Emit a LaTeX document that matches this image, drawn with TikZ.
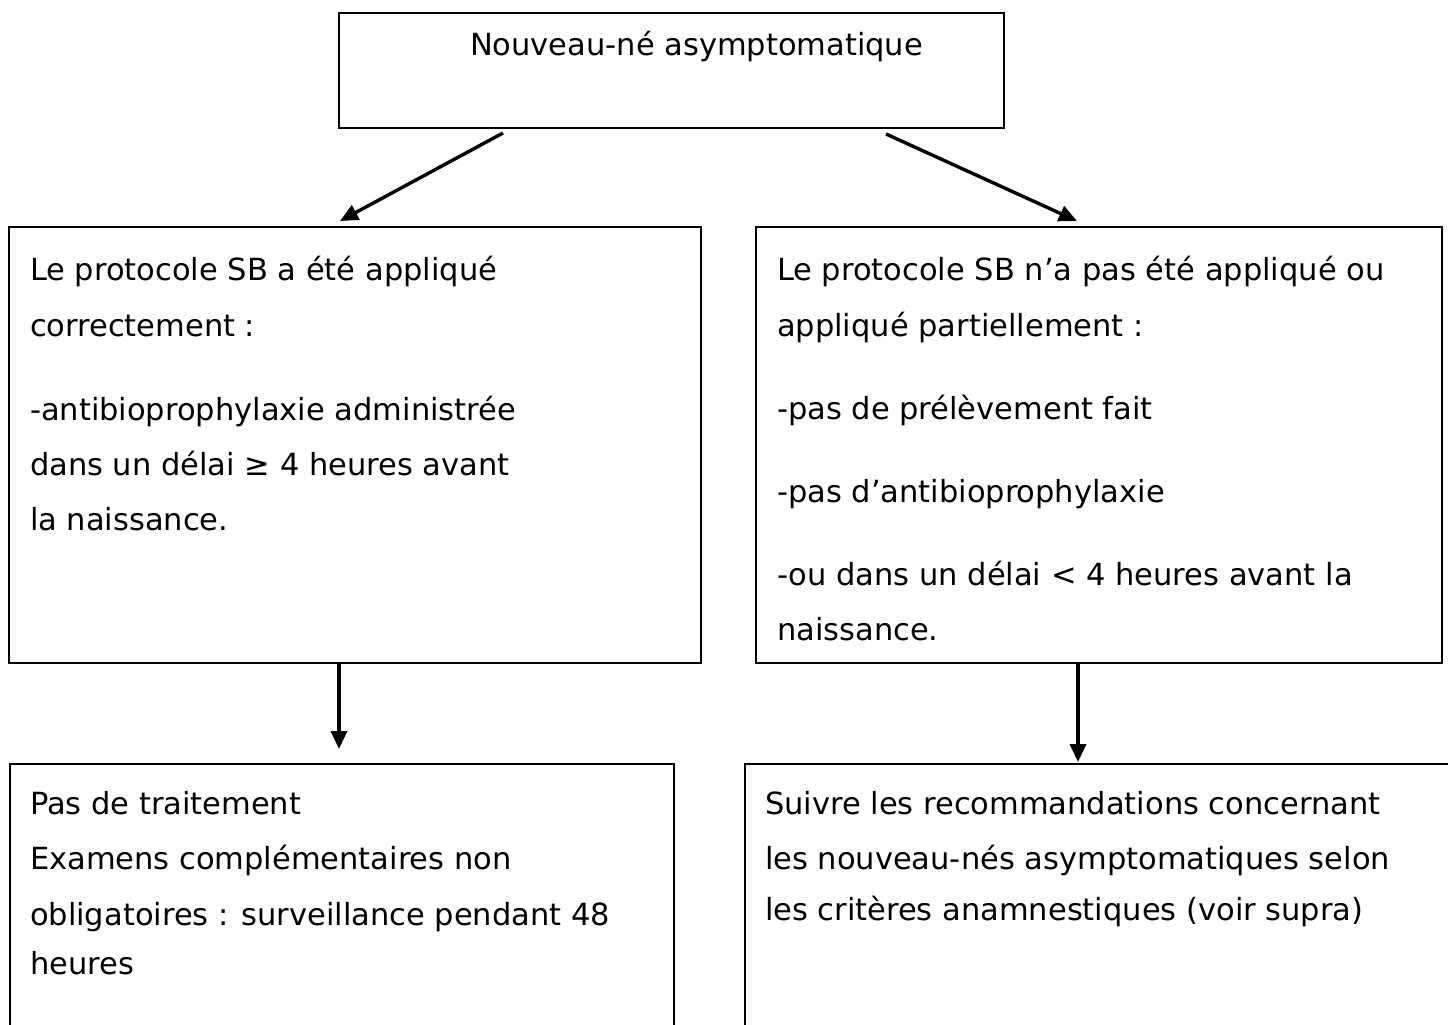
\documentclass[tikz,border=0pt]{standalone}
\usepackage{fontspec}
\setmainfont{DejaVu Sans}
\usetikzlibrary{arrows.meta}
\begin{document}
\begin{tikzpicture}[x=1pt,y=-1pt,
  box/.style={draw=black, line width=1.7pt, rectangle, inner sep=0pt, outer sep=0pt, anchor=north west},
  txt/.style={inner sep=0pt, outer sep=0pt, anchor=base west, font=\fontsize{30.5}{36}\selectfont},
  arr/.style={line width=3.4pt, -{Triangle[length=18pt,width=16pt]}}]
\clip (0,0) rectangle (1448,1025);
\fill[white] (0,0) rectangle (1448,1025);

% boxes
\node[box, minimum width=665pt, minimum height=115pt] (top) at (339,13) {};
\node[box, minimum width=692pt, minimum height=436pt] (ml) at (9,227) {};
\node[box, minimum width=686pt, minimum height=436pt] (mr) at (756,227) {};
\node[box, minimum width=664pt, minimum height=300pt] (bl) at (10,764) {};
\node[box, minimum width=740pt, minimum height=300pt] (br) at (745,764) {};

% texts
\node[txt] (t0) at (470,56) {Nouveau-né asymptomatique};

\node[txt] (a1) at (30,280) {Le protocole SB a été appliqué};
\node[txt] (a2) at (30,336) {correctement :};
\node[txt] (a3) at (30,420) {-antibioprophylaxie administrée};
\node[txt] (a4) at (30,475) {dans un délai ≥ 4 heures avant};
\node[txt] (a5) at (30,530) {la naissance.};

\node[txt] (b1) at (777,280) {Le protocole SB n’a pas été appliqué ou};
\node[txt] (b2) at (777,336) {appliqué partiellement :};
\node[txt] (b3) at (777,419) {-pas de prélèvement fait};
\node[txt] (b4) at (777,502) {-pas d’antibioprophylaxie};
\node[txt] (b5) at (777,585) {-ou dans un délai < 4 heures avant la};
\node[txt] (b6) at (777,640) {naissance.};

\node[txt] (c1) at (30,814) {Pas de traitement};
\node[txt] (c2) at (30,869) {Examens complémentaires non};
\node[txt] (c3) at (30,925) {obligatoires : surveillance pendant 48};
\node[txt] (c4) at (30,974) {heures};

\node[txt] (d1) at (765,814) {Suivre les recommandations concernant};
\node[txt] (d2) at (765,869) {les nouveau-nés asymptomatiques selon};
\node[txt] (d3) at (765,920) {les critères anamnestiques (voir supra)};

% connectors
\draw[arr] ([xshift=164pt,yshift=-5pt]top.south west) -- ([xshift=331pt,yshift=6pt]ml.north west);
\draw[arr] ([xshift=547pt,yshift=-6pt]top.south west) -- ([xshift=321pt,yshift=6pt]mr.north west);
\draw[arr] ([xshift=330pt]ml.south west) -- ([xshift=329pt,yshift=15pt]bl.north west);
\draw[arr] ([xshift=322pt]mr.south west) -- ([xshift=333pt,yshift=2pt]br.north west);
\end{tikzpicture}
\end{document}
